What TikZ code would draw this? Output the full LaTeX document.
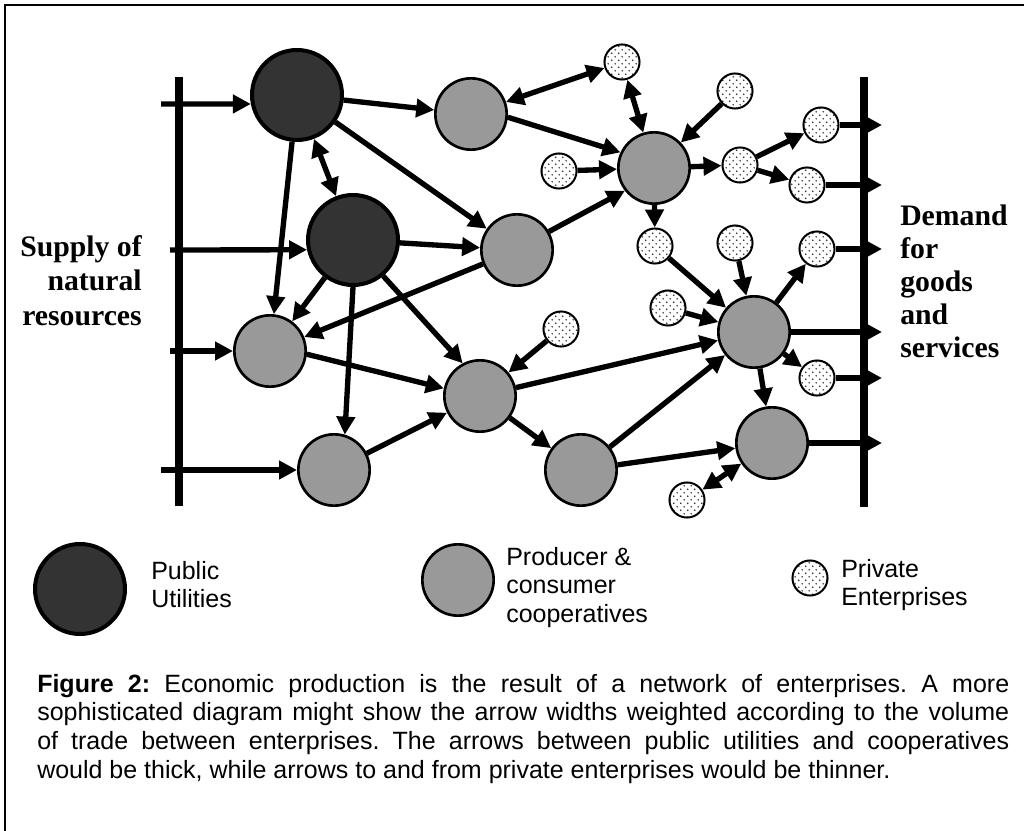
\documentclass[tikz,border=0pt]{standalone}
\usepackage{fontspec}
\setmainfont{Liberation Serif}
\setsansfont{Liberation Sans}
\usetikzlibrary{arrows.meta,patterns}
\definecolor{puf}{HTML}{333333}
\definecolor{coopf}{HTML}{999999}
\pgfdeclarepatternformonly{pdots}{\pgfqpoint{0pt}{0pt}}{\pgfqpoint{5.2pt}{5.2pt}}{\pgfqpoint{5.2pt}{5.2pt}}{%
  \pgfpathcircle{\pgfqpoint{1.3pt}{1.3pt}}{0.6pt}%
  \pgfpathcircle{\pgfqpoint{3.9pt}{3.9pt}}{0.6pt}%
  \pgfusepath{fill}}
\tikzset{
  pu/.style={circle, draw, line width=3pt, fill=puf, minimum size=67.5pt, inner sep=0pt},
  coop/.style={circle, draw, line width=2pt, fill=coopf, minimum size=53.5pt, inner sep=0pt},
  priv/.style={circle, draw, line width=1.5pt, preaction={fill=white}, pattern=pdots, pattern color=black!85, minimum size=26.3pt, inner sep=0pt},
  arr/.style={line width=4pt, -{Triangle[length=13.5pt,width=13.5pt]}},
  darr/.style={line width=4pt, {Triangle[length=13.5pt,width=13.5pt]}-{Triangle[length=13.5pt,width=13.5pt]}},
  bar/.style={line width=6pt},
  bigtxt/.style={font=\bfseries\fontsize{22.3pt}{25.9pt}\selectfont, inner sep=0pt},
  legtxt/.style={font=\sffamily\fontsize{18.75pt}{21.4pt}\selectfont, inner sep=0pt, anchor=base west},
  frame/.style={line width=1.9pt}
}
\begin{document}
\begin{tikzpicture}[x=0.75pt, y=-0.75pt]
\useasboundingbox (0,0) rectangle (1024,831);
\draw[frame] (5,840) -- (5,5) -- (1035,5);

% bars
\coordinate (lbt) at (179,77);
\coordinate (lbb) at (179,506);
\coordinate (rbt) at (864,77);
\coordinate (rbb) at (864,507);
\draw[bar] (lbt) -- (lbb);
\draw[bar] (rbt) -- (rbb);

% nodes
\node[pu] (pu1) at (297,95) {};
\node[pu] (pu2) at (353,240) {};
\node[coop] (c1) at (471,114) {};
\node[coop] (c2) at (517,250) {};
\node[coop] (c3) at (270,351) {};
\node[coop] (c4) at (480,396) {};
\node[coop] (c5) at (334,470) {};
\node[coop] (c6) at (581,470) {};
\node[coop] (c7) at (654,168) {};
\node[coop] (c8) at (754,332) {};
\node[coop] (c9) at (772,443) {};
\node[priv] (p1) at (622,62) {};
\node[priv] (p2) at (735,91) {};
\node[priv] (p3) at (559,171) {};
\node[priv] (p4) at (740,165) {};
\node[priv] (p5) at (821,125) {};
\node[priv] (p6) at (807,185) {};
\node[priv] (p7) at (655,246) {};
\node[priv] (p8) at (735,243) {};
\node[priv] (p9) at (817,249) {};
\node[priv] (p10) at (668,308) {};
\node[priv] (p11) at (561,329) {};
\node[priv] (p12) at (817,378) {};
\node[priv] (p13) at (687,500) {};

% inputs
\coordinate (in1) at (161,104);
\coordinate (in2) at (170,250);
\coordinate (in3) at (170,351);
\coordinate (in4) at (161,470);
\draw[arr] (in1) -- (pu1.191);
\draw[arr] (in2) -- (pu2.192);
\draw[arr] (in3) -- (c3);
\draw[arr] (in4) -- (c5);

% outputs
\coordinate (o1) at (882,125);
\coordinate (o2) at (882,185);
\coordinate (o3) at (882,249);
\coordinate (o4) at (882,332);
\coordinate (o5) at (882,378);
\coordinate (o6) at (882,443);
\draw[arr] (p5) -- (o1);
\draw[arr] (p6) -- (o2);
\draw[arr] (p9) -- (o3);
\draw[arr] (c8) -- (o4);
\draw[arr] (p12) -- (o5);
\draw[arr] (c9) -- (o6);

% connectors
\draw[arr] (pu1) -- (c1);
\draw[darr] (c1) -- (p1);
\draw[darr] (pu1) -- (pu2);
\draw[arr] (pu1) -- (c2);
\draw[arr] (pu2) -- (c2);
\draw[arr] (pu1) -- (c3);
\draw[arr] (c1.-5) -- (c7.155);
\draw[arr] (p3) -- (c7);
\draw[arr] (c2.30) -- (c7.218);
\draw[darr] (p1) -- (c7);
\draw[arr] (p2) -- (c7);
\draw[arr] (c7) -- (p4);
\draw[arr] (p4) -- (p5);
\draw[arr] (p4) -- (p6);
\draw[arr] (c7) -- (p7);
\draw[arr] (c8) -- (p9);
\draw[arr] (pu2) -- (c3);
\draw[arr] (c2) -- (c3);
\draw[arr] (pu2.-90) -- (c5.73);
\draw[arr] (pu2.-50) -- (c4.118);
\draw[arr] (c3.-5) -- (c4.168);
\draw[arr] (p11) -- (c4);
\draw[arr] (c5) -- (c4);
\draw[arr] (c4) -- (c6);
\draw[arr] (c4) -- (c8);
\draw[arr] (c6) -- (c8);
\draw[arr] (c6) -- (c9);
\draw[darr] (p13) -- (c9);
\draw[arr] (p7) -- (c8);
\draw[arr] (p8) -- (c8);
\draw[arr] (p10) -- (c8);
\draw[arr] (c8) -- (p12);
\draw[arr] (c8) -- (c9);

% side labels
\node[bigtxt, anchor=base east] (supply) at (142,256)
  {\begin{tabular}[t]{@{}r@{}}Supply of\\natural\\resources\end{tabular}};
\node[bigtxt, font=\bfseries\fontsize{22.3pt}{24.75pt}\selectfont, anchor=base west] (demand) at (900,225)
  {\begin{tabular}[t]{@{}l@{}}Demand\\for\\goods\\and\\services\end{tabular}};

% legend
\node[pu] (lpu) at (80,589) {};
\node[legtxt] (lputxt) at (151,579) {\begin{tabular}[t]{@{}l@{}}Public\\Utilities\end{tabular}};
\node[coop] (lcoop) at (458,580) {};
\node[legtxt] (lcooptxt) at (506,565) {\begin{tabular}[t]{@{}l@{}}Producer \&\\consumer\\cooperatives\end{tabular}};
\node[priv] (lpriv) at (810,578) {};
\node[legtxt] (lprivtxt) at (841,577) {\begin{tabular}[t]{@{}l@{}}Private\\Enterprises\end{tabular}};

% caption
\node[anchor=base west, inner sep=0pt, font=\sffamily\fontsize{18.75pt}{21.5pt}\selectfont] (caption) at (37,692)
  {\parbox[t]{729pt}{\frenchspacing\tolerance=10000\hyphenpenalty=10000%
  \textbf{Figure 2:} Economic production is the result of a network of enterprises. A more\linebreak
  sophisticated diagram might show the arrow widths weighted according to the volume\linebreak
  of trade between enterprises. The arrows between public utilities and cooperatives\linebreak
  would be thick, while arrows to and from private enterprises would be thinner.}};
\end{tikzpicture}
\end{document}
